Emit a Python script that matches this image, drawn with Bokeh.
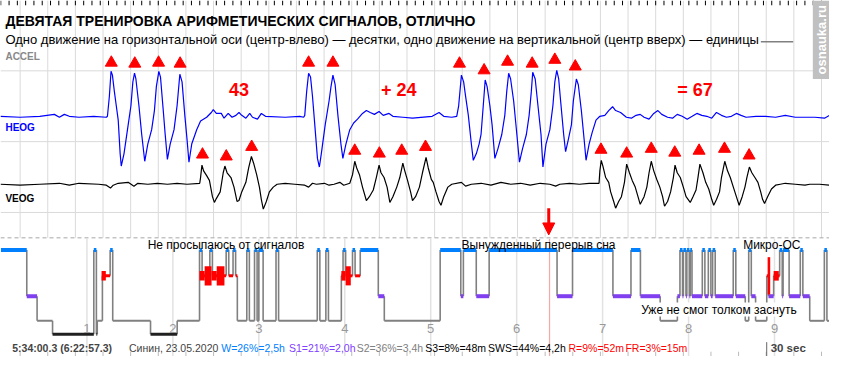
import math
import numpy as np
from bokeh.plotting import figure
from bokeh.models import Range1d, Label, Arrow, NormalHead
from bokeh.embed import file_html
from bokeh.resources import INLINE

# ---------------- DATA ----------------
TITLE = "ДЕВЯТАЯ ТРЕНИРОВКА АРИФМЕТИЧЕСКИХ СИГНАЛОВ, ОТЛИЧНО"
SUBTITLE = ("Одно движение на горизонтальной оси (центр-влево) — десятки, "
            "одно движение на вертикальной (центр вверх) — единицы")
CHANNELS = ["ACCEL", "HEOG", "VEOG"]

# HEOG trace: time (s) / amplitude (uV)
HEOG_T = [-0.71, 0.00, 0.71, 1.24, 1.42, 1.60, 1.78, 2.13, 2.66, 3.12,
          3.16, 3.23, 3.29, 3.34, 3.41, 3.48, 3.55, 3.62, 3.66, 3.76, 3.91, 4.01, 4.08, 4.14, 4.19,
          4.30, 4.40, 4.51, 4.62, 4.76, 4.86, 4.93, 5.02, 5.08, 5.18, 5.25, 5.33, 5.43, 5.57, 5.68,
          5.78, 5.86, 5.96, 6.04, 6.11, 6.21, 6.39, 6.53, 6.75, 6.92, 6.99, 7.10, 7.28, 7.38, 7.53,
          7.67, 7.81, 7.92, 8.02, 8.17, 8.31, 8.41, 8.59, 8.73, 8.88, 9.59, 10.12, 10.26,
          10.30, 10.37, 10.44, 10.51, 10.58, 10.65, 10.76, 10.83, 10.90, 11.04, 11.18, 11.25, 11.32,
          11.40, 11.50, 11.61, 11.68, 11.79, 11.93, 12.07, 12.21, 12.39, 12.53, 12.67, 12.82, 12.99,
          13.14, 13.35, 13.49, 13.85, 14.20, 14.91, 15.16, 15.33, 15.62, 15.80,
          15.87, 15.97, 16.05, 16.12, 16.22, 16.33, 16.40, 16.51, 16.61, 16.68, 16.76, 16.83, 16.90,
          17.00, 17.08, 17.18, 17.29, 17.43, 17.54, 17.61, 17.68, 17.75, 17.86, 17.96, 18.07, 18.18,
          18.32, 18.42, 18.50, 18.55, 18.64, 18.74, 18.85, 18.92, 19.03, 19.17, 19.28, 19.35, 19.42,
          19.49, 19.56, 19.67, 19.74, 19.84, 19.95, 20.02, 20.13, 20.20, 20.31, 20.41, 20.48, 20.59,
          20.70, 20.84, 20.98, 21.16, 21.30, 21.44, 21.55, 21.73, 21.94, 22.12, 22.29, 22.44, 22.58,
          22.76, 22.93, 23.08, 23.22, 23.43, 23.61, 23.78, 23.96, 24.14, 24.32, 24.49, 24.67, 24.85,
          25.03, 25.20, 25.38, 25.56, 25.74, 25.92, 26.09, 26.27, 26.63, 26.98, 27.34, 27.69, 28.05,
          28.40, 28.76, 29.11, 29.29]
HEOG_UV = [5, 0, 5, 15, 0, 15, 5, 0, 5, 0,
           5, 110, 240, 220, 135, 60, -15, -190, -255, -190, -40, 60, 185, 230, 200,
           60, -90, -230, -140, -65, 35, 160, 240, 210, 35, -90, -220, -140, -65, 60,
           225, 185, 10, -115, -235, -140, -65, -20, 0, 25, 40, 20, 20, -5, 20,
           0, 10, 25, 10, -5, 20, 0, -10, 20, 5, 0, 5, 0,
           10, 135, 230, 210, 110, -15, -215, -260, -190, -40, 85, 160, 220,
           170, 10, -140, -215, -140, -65, -30, -10, 20, 35, 25, 15, 30,
           10, 20, 5, 0, -5, 5, 25, 5, 0, 5,
           60, 220, 185, 110, 10, -140, -225, -190, -140, -90, 60, 195, 160,
           60, -40, -215, -165, -90, 10, 135, 230, 200, 85, -65, -235, -165,
           -90, 10, 135, 235, 200, 60, -90, -260, -140, -65, 60, 185, 245,
           200, 85, -90, -180, -115, -40, 85, 200, 170, 35, -115, -225, -140,
           -80, -15, 5, 10, 35, 55, 35, 25, 0, -5, 10, 15, 0,
           -10, 20, 35, 15, 0, -5, 15, 5, -10, 5, 20, 10, 5,
           -5, 25, 10, 0, 5, 20, 10, 0, 5, 5, 0, 10, 0,
           0, 0, -5, 10]

# VEOG trace: time (s) / amplitude (uV)
VEOG_T = [-0.71, 0.00, 0.71, 1.42, 1.78, 2.13, 2.84, 3.12, 3.27, 3.37, 3.55, 3.91, 4.12, 4.26,
          4.62, 4.97, 5.33, 5.68, 6.04, 6.50,
          6.53, 6.58, 6.64, 6.75, 6.85, 6.96, 7.03, 7.10, 7.24, 7.35, 7.41, 7.49, 7.63, 7.74, 7.85,
          7.92, 8.02, 8.17, 8.27, 8.37, 8.45, 8.56, 8.66, 8.73, 8.80, 8.91, 9.02, 9.16, 9.30, 9.59,
          9.94, 10.30, 10.44, 10.58, 10.72, 11.01, 11.18, 11.36, 11.57, 11.71, 11.93,
          12.03, 12.11, 12.18, 12.28, 12.39, 12.53, 12.64, 12.78, 12.89, 12.99, 13.06, 13.17, 13.28,
          13.38, 13.49, 13.63, 13.74, 13.85, 13.92, 14.02, 14.13, 14.20, 14.31, 14.45, 14.56, 14.69,
          14.77, 14.88, 14.95, 15.05, 15.16, 15.23, 15.33, 15.48, 15.62, 15.97, 16.12, 16.33, 16.68,
          17.04, 17.40, 17.75, 18.11, 18.46, 18.82, 19.17, 19.38, 19.53, 19.88, 20.24, 20.59, 20.95,
          20.98, 21.03, 21.09, 21.19, 21.30, 21.37, 21.48, 21.55, 21.66, 21.76, 21.87, 21.95, 22.05,
          22.15, 22.26, 22.36, 22.44, 22.58, 22.68, 22.76, 22.84, 22.93, 23.04, 23.15, 23.25, 23.32,
          23.43, 23.54, 23.64, 23.70, 23.78, 23.89, 24.00, 24.10, 24.25, 24.35, 24.46, 24.53, 24.60,
          24.71, 24.81, 24.92, 25.03, 25.10, 25.20, 25.31, 25.38, 25.50, 25.60, 25.70, 25.81, 25.92,
          26.02, 26.13, 26.23, 26.30, 26.39, 26.48, 26.59, 26.70, 26.80, 26.87, 26.94, 27.05, 27.19,
          27.34, 27.51, 27.69, 28.05, 28.40, 28.58, 28.93, 29.29]
VEOG_UV = [0, -5, 0, 5, -5, 5, 0, -5, -20, -5, 5, 10, -10, 5,
           0, 5, 0, 5, 0, 5,
           35, 100, 70, 45, 20, -65, -95, -75, -40, 60, 95, 60, 35, -15, -90,
           -85, -40, 10, 85, 145, 110, 50, -15, -80, -130, -90, -40, -15, 0, 5,
           0, -5, -15, 5, 0, 5, -5, 0, 10, -5, 5,
           50, 120, 85, 50, -15, -85, -65, -30, 35, 100, 60, 35, -15,
           -95, -65, -15, 35, 110, 70, 20, -40, -85, -65, -15, 60, 140,
           85, 25, 10, -40, -90, -110, -65, -15, 0, 10, -10, 0, 5,
           -5, 10, 0, 5, -5, 5, 0, -10, 0, 5, 0, 5, 5,
           70, 125, 95, 35, 10, -40, -90, -125, -90, -65, 10, 105, 60,
           20, -15, -65, -105, -65, -15, 60, 120, 70, 25, -15, -65, -115,
           -90, -40, 35, 100, 60, 35, -15, -65, -95, -65, -30, 35, 105,
           60, 10, -25, -80, -110, -80, -40, 35, 120, 70, 35, -15, -65,
           -110, -65, -15, 35, 90, 60, 35, 10, -40, -80, -100, -65, -25,
           -5, 0, 5, 0, -5, 0, 0, -5]

# red triangles (detected movements)
HEOG_MARK_T = [3.30, 4.15, 5.01, 5.79, 10.44, 11.32, 15.90, 16.79, 17.64, 18.53, 19.35, 20.09]
HEOG_MARK_UV = [285, 280, 285, 280, 285, 285, 280, 245, 290, 280, 300, 265]
VEOG_MARK_T = [6.60, 7.46, 8.38, 12.11, 13.00, 13.81, 14.67,
               21.02, 21.95, 22.84, 23.69, 24.57, 25.49, 26.38]
VEOG_MARK_UV = [155, 145, 195, 175, 160, 175, 195, 180, 160, 185, 165, 175, 185, 150]

# arithmetic annotations
SUM_T = [7.56, 13.06, 23.78]
SUM_UV = [145, 145, 145]
SUM_TEXT = ["43", "+ 24", "= 67"]

# cursor
CURSOR_T = 19.13          # s, within the 30-sec window
CURSOR_H = 6.3826         # h, elapsed (6:22:57.3)

# hypnogram (elapsed hours)
HYP_START = [0.00, 0.30, 0.42, 0.60, 1.08, 1.11, 1.12, 1.18, 1.27, 1.30, 1.74, 2.05, 2.31, 2.34,
             2.43, 2.46, 2.62, 2.65, 2.70, 2.73, 2.75, 2.86, 2.89, 2.95, 2.98, 3.00, 3.05, 3.20,
             3.23, 3.68, 3.71, 3.78, 3.81, 3.96, 3.98, 4.01, 4.09, 4.12, 4.18, 4.39, 4.46, 5.11,
             5.35, 5.38, 5.53, 5.68, 6.47, 6.65, 7.12, 7.33, 7.44, 7.67, 7.87, 7.90, 7.93, 7.94,
             7.97, 7.98, 8.01, 8.02, 8.04, 8.16, 8.19, 8.23, 8.26, 8.28, 8.31, 8.52, 8.55, 8.66,
             8.70, 8.73, 8.78, 8.91, 8.93, 8.99, 9.06, 9.09, 9.10, 9.17, 9.30, 9.33, 9.41, 9.58, 9.61]
HYP_STAGE = ["W", "S1", "S2", "S3", "W", "S3", "S2", "R", "W", "S2", "S3", "S2", "W", "R",
             "W", "R", "W", "R", "W", "R", "S2", "W", "S2", "W", "S2", "W", "S2", "W",
             "S2", "W", "S2", "W", "S2", "R", "W", "R", "W", "R", "W", "S1", "S2", "W",
             "S1", "W", "S1", "W", "S1", "W", "S1", "W", "S1", "S2", "S1", "W", "S1", "W",
             "S1", "W", "S1", "W", "S1", "W", "S1", "W", "S1", "W", "S1", "W", "S1", "S2",
             "W", "S1", "S2", "R", "S1", "R", "W", "S1", "W", "S1", "W", "S1", "S2", "W", "S2"]
HYP_END = 9.64
REM_BURST_START = [1.17, 2.31, 2.37, 2.45, 2.51, 3.96, 4.01, 8.92, 8.99]
REM_BURST_END = [1.22, 2.37, 2.45, 2.51, 2.60, 4.01, 4.07, 8.95, 9.05]
REM_BURST_LEVEL = [1, 1, 2, 1, 2, 1, 2, 3, 1]
HOURS = [1, 2, 3, 4, 5, 6, 7, 8, 9]
HYP_NOTES = ["Не просыпаюсь от сигналов", "Вынужденный перерыв сна", "Микро-ОС",
             "Уже не смог толком заснуть"]

FOOTER_TIME = "5:34:00.3 (6:22:57.3)"
FOOTER_NAME = "Синин, 23.05.2020"
FOOTER_STATS = ["W=26%=2,5h", "S1=21%=2,0h", "S2=36%=3,4h", "S3=8%=48m",
                "SWS=44%=4,2h", "R=9%=52m", "FR=3%=15m"]
FOOTER_SCALE = "30 sec"
WATERMARK = "osnauka.ru"

# ---------------- STYLE ----------------
FONT = "Liberation Sans"
STAGE_Y = {"W": 260.7, "R": 287.7, "S1": 309.0, "S2": 334.7, "S3": 348.8}
STAGE_COLOR = {"W": "#0080ff", "R": "#ff0000", "S1": "#8040f0", "S2": "#808080", "S3": "#202020"}
STAGE_WIDTH = {"W": 4, "R": 3, "S1": 4, "S2": 2, "S3": 3}
REM_H = {1: 10, 2: 20, 3: 39}
STAT_COLORS = ["#0080ff", "#8040ff", "#808080", "#000000", "#000000", "#ff0000", "#ff0000"]
STAT_X = [225, 294, 363, 433, 497, 579, 637]

p = figure(width=829, height=356, output_backend="svg", toolbar_location=None,
           x_range=Range1d(-0.71, 29.29), y_range=Range1d(372, 0),
           x_axis_location=None, y_axis_location=None, min_border=0,
           outline_line_color=None, background_fill_color="white", border_fill_color="white")
p.grid.visible = False
p.extra_x_ranges = {"px": Range1d(0, 845), "hours": Range1d(-0.0057, 9.640)}
p.extra_y_ranges = {"heog": Range1d(-1250, 610), "veog": Range1d(-900, 960)}

# second grid
secs = list(range(0, 30))
p.segment(x0=secs, y0=[0] * len(secs), x1=secs, y1=[248] * len(secs), line_color="#dadada", line_width=1)
p.segment(x0=secs, y0=[367] * len(secs), x1=secs, y1=[372] * len(secs), line_color="#bbbbbb", line_width=1)
for yy in [73.5, 147.5, 221.5]:
    p.segment(x0=[0], y0=[yy], x1=[845], y1=[yy], x_range_name="px", line_color="#dadada", line_width=1)

# top ruler
rt = np.arange(-0.7, 29.3, 0.3)
p.segment(x0=rt, y0=[0] * len(rt), x1=rt, y1=[5] * len(rt), line_color="black", line_width=1)

# accel scale
p.segment(x0=[775], y0=[43], x1=[808], y1=[43], x_range_name="px", line_color="#808080", line_width=1.5)

# traces
p.line(HEOG_T, HEOG_UV, y_range_name="heog", line_color="#0000ff", line_width=1.2)
p.line(VEOG_T, VEOG_UV, y_range_name="veog", line_color="black", line_width=1.2)
p.scatter(HEOG_MARK_T, HEOG_MARK_UV, y_range_name="heog", marker="triangle", size=12,
          fill_color="red", line_color="red")
p.scatter(VEOG_MARK_T, VEOG_MARK_UV, y_range_name="veog", marker="triangle", size=12,
          fill_color="red", line_color="red")
for t, v, s in zip(SUM_T, SUM_UV, SUM_TEXT):
    p.add_layout(Label(x=t, y=v, y_range_name="heog", text=s, text_color="red",
                       text_font=FONT, text_font_style="bold", text_font_size="18px",
                       text_baseline="middle", text_align="left"))

# channel labels
for name, yy, col in zip(CHANNELS, [58, 133, 207], ["#888888", "#0000ff", "#000000"]):
    p.add_layout(Label(x=5, y=yy, x_range_name="px", text=name, text_color=col,
                       text_font=FONT, text_font_style="bold", text_font_size="10px",
                       text_baseline="middle"))

# title
p.add_layout(Label(x=5, y=21, x_range_name="px", text=TITLE, text_font=FONT,
                   text_font_style="bold", text_font_size="14px", text_baseline="middle",
                   text_color="black"))
p.add_layout(Label(x=5, y=41, x_range_name="px", text=SUBTITLE, text_font=FONT,
                   text_font_size="13px", text_baseline="middle", text_color="black"))

# watermark
p.quad(left=[828], right=[845], top=[0], bottom=[82], x_range_name="px",
       fill_color="#c0c0c0", line_color=None)
p.add_layout(Label(x=836.5, y=41, x_range_name="px", text=WATERMARK, angle=math.pi / 2,
                   text_font=FONT, text_font_style="bold", text_font_size="13px",
                   text_color="white", text_align="center", text_baseline="middle"))

# cursor arrow
p.add_layout(Arrow(end=NormalHead(size=12, fill_color="red", line_color="red", line_width=1),
                   x_start=CURSOR_T, y_start=217, x_end=CURSOR_T, y_end=245,
                   line_color="red", line_width=3))

# hypnogram frame
p.segment(x0=[0], y0=[248], x1=[845], y1=[248], x_range_name="px", line_color="#a8a8a8",
          line_dash="4 3", line_width=1)
p.segment(x0=HOURS, y0=[249] * len(HOURS), x1=HOURS, y1=[372] * len(HOURS), x_range_name="hours",
          line_color="#e2e2e2", line_width=1.5)
p.segment(x0=[CURSOR_H], y0=[249], x1=[CURSOR_H], y1=[372], x_range_name="hours",
          line_color="#f4a8a8", line_width=1.2)
for h in HOURS:
    p.add_layout(Label(x=h, y=343, x_range_name="hours", text=str(h), text_font=FONT,
                       text_font_size="13px", text_color="#999999", text_align="center",
                       text_baseline="middle"))

ends = HYP_START[1:] + [HYP_END]
vx, vy0, vy1 = [], [], []
for i in range(len(HYP_STAGE) - 1):
    vx.append(ends[i])
    vy0.append(STAGE_Y[HYP_STAGE[i]])
    vy1.append(STAGE_Y[HYP_STAGE[i + 1]])
p.segment(x0=vx, y0=vy0, x1=vx, y1=vy1, x_range_name="hours", line_color="#808080", line_width=1.6)
for st in ["S2", "S3", "S1", "R", "W"]:
    xs0 = [s for s, g in zip(HYP_START, HYP_STAGE) if g == st]
    xs1 = [e for e, g in zip(ends, HYP_STAGE) if g == st]
    yy = [STAGE_Y[st]] * len(xs0)
    p.segment(x0=xs0, y0=yy, x1=xs1, y1=yy, x_range_name="hours", line_color=STAGE_COLOR[st],
              line_width=STAGE_WIDTH[st], line_cap="butt")
p.quad(left=REM_BURST_START, right=REM_BURST_END,
       top=[STAGE_Y["R"] - REM_H[l] / 2 for l in REM_BURST_LEVEL],
       bottom=[STAGE_Y["R"] + REM_H[l] / 2 for l in REM_BURST_LEVEL],
       x_range_name="hours", fill_color="red", line_color=None)

for txt, xx, yy in zip(HYP_NOTES, [150, 470, 757, 653], [255, 255, 255, 323]):
    bg = "white" if yy > 300 else None
    p.add_layout(Label(x=xx, y=yy, x_range_name="px", text=txt, text_font=FONT,
                       text_font_size="12px", text_color="black", text_baseline="middle",
                       background_fill_color=bg))

# footer
p.add_layout(Label(x=12, y=363, x_range_name="px", text=FOOTER_TIME, text_font=FONT,
                   text_font_style="bold", text_font_size="10.5px", text_baseline="middle"))
p.add_layout(Label(x=131, y=363, x_range_name="px", text=FOOTER_NAME, text_font=FONT,
                   text_font_size="10.5px", text_baseline="middle"))
for txt, xx, col in zip(FOOTER_STATS, STAT_X, STAT_COLORS):
    p.add_layout(Label(x=xx, y=363, x_range_name="px", text=txt, text_font=FONT,
                       text_font_size="10.5px", text_color=col, text_baseline="middle"))
p.segment(x0=[781], y0=[357], x1=[781], y1=[372], x_range_name="px", line_color="#666666", line_width=1)
p.add_layout(Label(x=785, y=363, x_range_name="px", text=FOOTER_SCALE, text_font=FONT,
                   text_font_style="bold", text_font_size="11.5px", text_baseline="middle"))

open("out.html", "w").write(file_html(p, INLINE))
